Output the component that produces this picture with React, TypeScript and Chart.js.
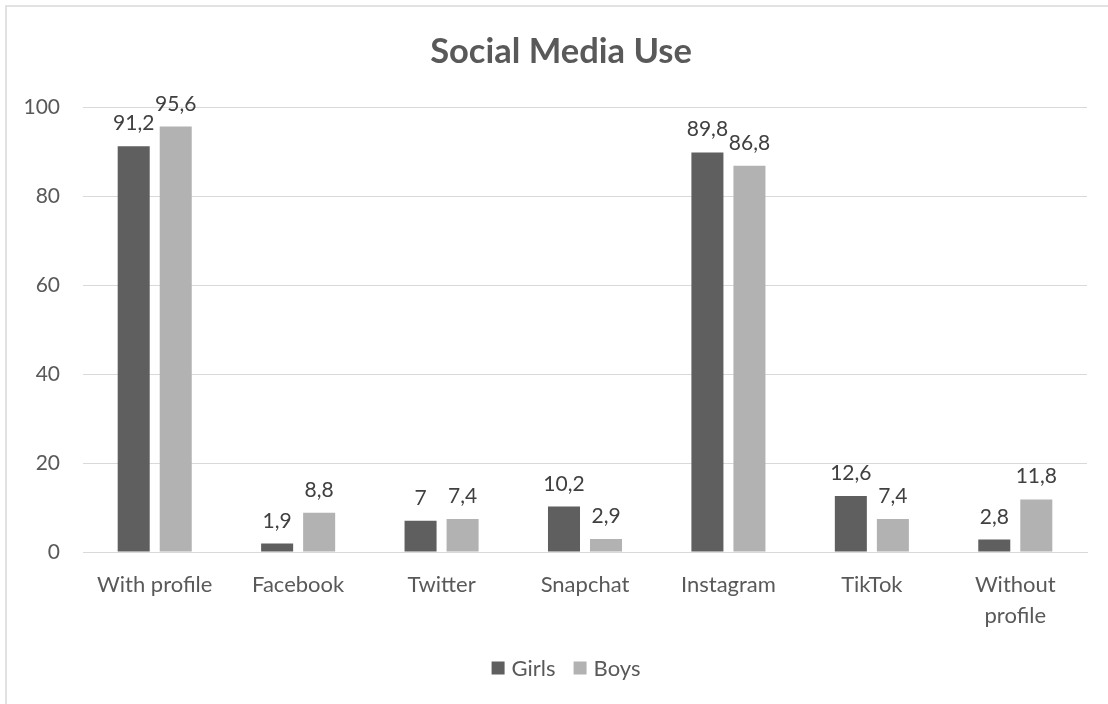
import React, { useEffect, useRef } from "react";
import { Chart, registerables } from "chart.js";

Chart.register(...registerables);

const categories: (string | string[])[] = [
  "With profile",
  "Facebook",
  "Twitter",
  "Snapchat",
  "Instagram",
  "TikTok",
  ["Without", "profile"],
];
const girls = [91.2, 1.9, 7, 10.2, 89.8, 12.6, 2.8];
const boys = [95.6, 8.8, 7.4, 2.9, 86.8, 7.4, 11.8];
const seriesNames = ["Girls", "Boys"];
const seriesColors = ["#5f5f5f", "#b2b2b2"];
const titleText = "Social Media Use";

const FONT = "Lato, 'Noto Sans', sans-serif";
const TEXT = "#595959";

const fmt = (v: number) => String(v).replace(".", ",");

const decorPlugin = {
  id: "decor",
  beforeDraw(chart: any) {
    const ctx = chart.ctx;
    ctx.save();
    ctx.strokeStyle = "#d9d9d9";
    ctx.lineWidth = 1.5;
    ctx.strokeRect(6, 6, 1300, 900);
    ctx.restore();
  },
  afterDatasetsDraw(chart: any) {
    const ctx = chart.ctx;
    ctx.save();
    ctx.font = `21px ${FONT}`;
    ctx.fillStyle = "#404040";
    ctx.textAlign = "center";
    ctx.textBaseline = "alphabetic";
    chart.data.datasets.forEach((ds: any, i: number) => {
      const meta = chart.getDatasetMeta(i);
      meta.data.forEach((bar: any, j: number) => {
        ctx.fillText(fmt(ds.data[j]), bar.x, bar.y - 16);
      });
    });
    ctx.restore();
  },
  afterDraw(chart: any) {
    const ctx = chart.ctx;
    ctx.save();
    // title
    ctx.font = `bold 34.5px ${FONT}`;
    ctx.fillStyle = TEXT;
    ctx.textAlign = "center";
    ctx.textBaseline = "alphabetic";
    ctx.fillText(titleText, 561, 63);
    // legend
    ctx.font = `22px ${FONT}`;
    ctx.textAlign = "left";
    ctx.textBaseline = "middle";
    const box = 13;
    const gap = 7;
    const spacing = 18;
    const widths = seriesNames.map((n) => ctx.measureText(n).width);
    const total =
      widths.reduce((a, b) => a + b, 0) + seriesNames.length * (box + gap) + spacing * (seriesNames.length - 1);
    let x = 566 - total / 2;
    const y = 668;
    seriesNames.forEach((n, i) => {
      ctx.fillStyle = seriesColors[i];
      ctx.fillRect(x, y - box / 2, box, box);
      x += box + gap;
      ctx.fillStyle = TEXT;
      ctx.fillText(n, x, y + 1);
      x += widths[i] + spacing;
    });
    ctx.restore();
  },
};

export default function App() {
  const ref = useRef<HTMLCanvasElement>(null);
  useEffect(() => {
    document.body.style.margin = "0";
    const chart = new Chart(ref.current!, {
      type: "bar",
      data: {
        labels: categories,
        datasets: [
          { label: seriesNames[0], data: girls, backgroundColor: seriesColors[0] },
          { label: seriesNames[1], data: boys, backgroundColor: seriesColors[1] },
        ],
      },
      options: {
        responsive: false,
        animation: false,
        devicePixelRatio: 1,
        layout: { padding: { top: 107, bottom: 0, left: 0, right: 21 } },
        datasets: { bar: { categoryPercentage: 0.586, barPercentage: 0.762 } },
        plugins: {
          legend: { display: false },
          title: { display: false },
          tooltip: { enabled: false },
        },
        scales: {
          x: {
            afterFit: (s: any) => {
              s.height = 152;
            },
            grid: { display: false, drawTicks: false },
            border: { display: true, color: "#d9d9d9", width: 1 },
            ticks: {
              color: TEXT,
              font: { family: FONT, size: 22, lineHeight: 1.41 },
              padding: 17,
              maxRotation: 0,
              autoSkip: false,
            },
          },
          y: {
            min: 0,
            max: 100,
            afterFit: (s: any) => {
              s.width = 83;
            },
            grid: { color: "#d9d9d9", drawTicks: false, lineWidth: 1 },
            border: { display: false },
            ticks: {
              stepSize: 20,
              color: TEXT,
              font: { family: FONT, size: 21 },
              padding: 23,
            },
          },
        },
      },
      plugins: [decorPlugin],
    });
    return () => chart.destroy();
  }, []);
  return (
    <div style={{ width: 1108, height: 704 }}>
      <canvas ref={ref} width={1108} height={704} style={{ display: "block" }} />
    </div>
  );
}
